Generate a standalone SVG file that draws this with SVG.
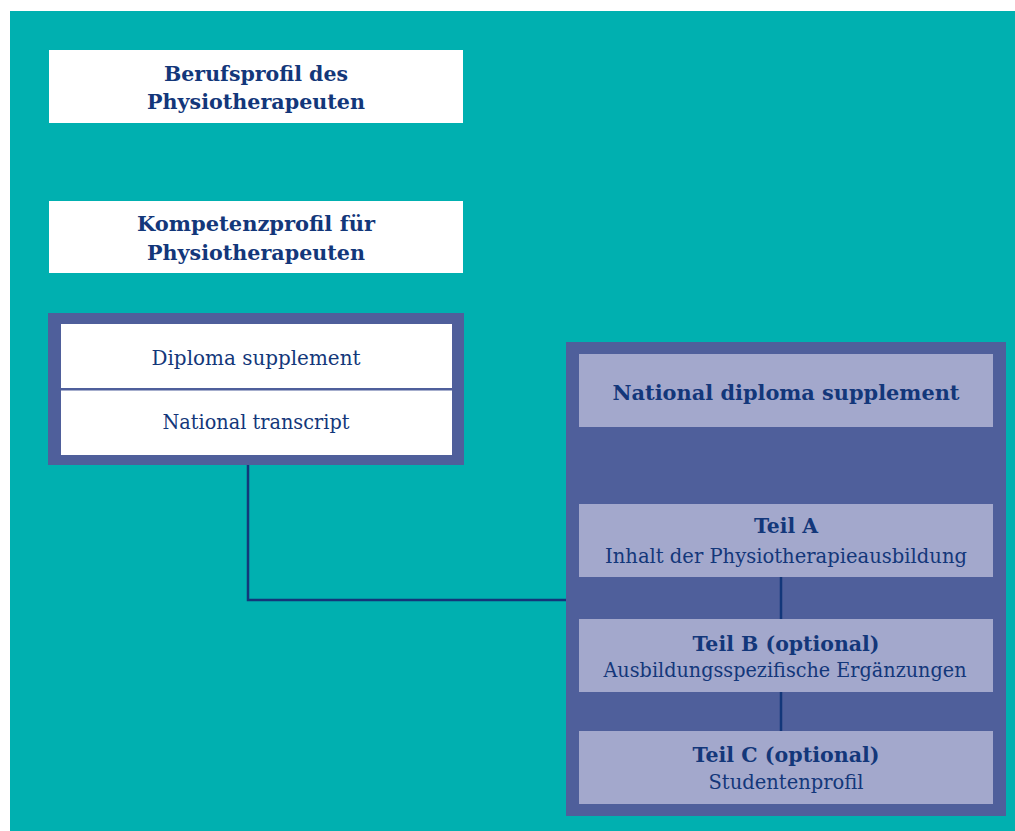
<svg xmlns="http://www.w3.org/2000/svg" width="1015" height="831" viewBox="0 0 1015 831">
<style>
.bg{fill:#00B0B0}
.white{fill:#FFFFFF}
.frame{fill:#4F5F9B}
.lav{fill:#A3A8CC}
.t{font-family:"DejaVu Serif","Liberation Serif",serif;fill:#13377A;text-anchor:middle;font-size:20.5px}
.b{font-weight:bold}
.conn{stroke:#13377A;stroke-width:2.5;fill:none}
</style>
<rect x="0" y="0" width="1015" height="831" fill="#FFFFFF"/>
<rect class="bg" x="10" y="11" width="1005" height="820"/>
<g id="berufsprofil">
<rect class="white" x="49" y="50" width="414" height="73"/>
<text class="t b" x="256" y="81" textLength="184" lengthAdjust="spacingAndGlyphs">Berufsprofil des</text>
<text class="t b" x="256" y="109" textLength="218" lengthAdjust="spacingAndGlyphs">Physiotherapeuten</text>
</g>
<g id="kompetenzprofil">
<rect class="white" x="49" y="201" width="414" height="72"/>
<text class="t b" x="256" y="231" textLength="238" lengthAdjust="spacingAndGlyphs">Kompetenzprofil für</text>
<text class="t b" x="256" y="260" textLength="218" lengthAdjust="spacingAndGlyphs">Physiotherapeuten</text>
</g>
<g id="diploma">
<rect class="frame" x="48" y="313" width="416" height="152"/>
<rect class="white" x="61" y="324" width="391" height="131"/>
<rect class="frame" x="61" y="388" width="391" height="2.5"/>
<text class="t" x="256" y="365" textLength="209" lengthAdjust="spacingAndGlyphs">Diploma supplement</text>
<text class="t" x="256" y="429" textLength="187" lengthAdjust="spacingAndGlyphs">National transcript</text>
</g>
<g id="national">
<rect class="frame" x="566" y="342" width="440" height="474"/>
<g id="nds">
<rect class="lav" x="579" y="354" width="414" height="73"/>
<text class="t b" x="786" y="400" textLength="347" lengthAdjust="spacingAndGlyphs">National diploma supplement</text>
</g>
<g id="teilA">
<rect class="lav" x="579" y="504" width="414" height="73"/>
<text class="t b" x="786" y="533" textLength="64" lengthAdjust="spacingAndGlyphs">Teil A</text>
<text class="t" x="786" y="563" textLength="362" lengthAdjust="spacingAndGlyphs">Inhalt der Physiotherapieausbildung</text>
</g>
<g id="teilB">
<rect class="lav" x="579" y="619" width="414" height="73"/>
<text class="t b" x="786" y="651" textLength="187" lengthAdjust="spacingAndGlyphs">Teil B (optional)</text>
<text class="t" x="785" y="677" textLength="363" lengthAdjust="spacingAndGlyphs">Ausbildungsspezifische Ergänzungen</text>
</g>
<g id="teilC">
<rect class="lav" x="579" y="731" width="414" height="73"/>
<text class="t b" x="786" y="762" textLength="187" lengthAdjust="spacingAndGlyphs">Teil C (optional)</text>
<text class="t" x="786" y="789" textLength="155" lengthAdjust="spacingAndGlyphs">Studentenprofil</text>
</g>
</g>
<g id="connectors">
<polyline class="conn" points="248,465 248,600 566,600"/>
<line class="conn" x1="781" y1="577" x2="781" y2="619"/>
<line class="conn" x1="781" y1="692" x2="781" y2="731"/>
</g>
</svg>
